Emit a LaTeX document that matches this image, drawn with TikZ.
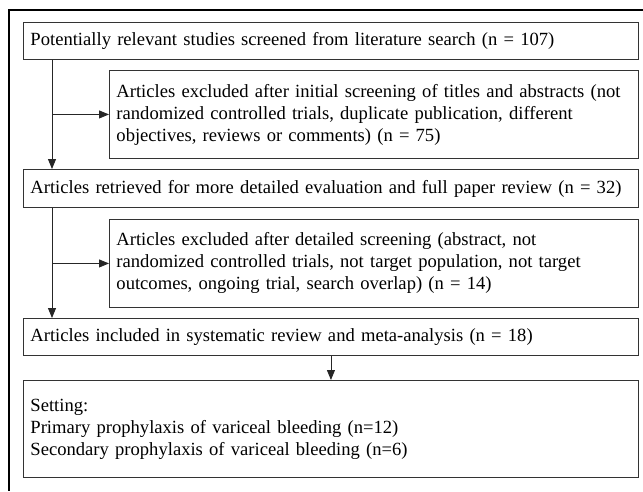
\documentclass[tikz,border=0pt]{standalone}
\usepackage{fontspec}
\setmainfont{Liberation Serif}
\usetikzlibrary{arrows.meta}
\tikzset{
  box/.style={draw=black!80, line width=0.9pt, anchor=north west, align=left,
    inner xsep=7pt, inner ysep=0pt, font=\fontsize{18.6}{22}\selectfont},
  flow/.style={draw=black!85, line width=0.9pt, -{Triangle[length=10pt,width=8pt]}}
}
\begin{document}
\begin{tikzpicture}[x=1pt,y=-1pt]
\useasboundingbox (0,0) rectangle (643,491);
% outer frame, cut off at right and bottom
\draw[line width=1.1pt] (643,10) -- (9,10) -- (9,491);
\node[box, text width=601pt, minimum height=37pt] (search) at (23,22) {Potentially relevant studies screened from literature search (n = 107)};
\node[box, text width=515pt, minimum height=88pt] (excl1) at (109,70) {Articles excluded after initial screening of titles and abstracts (not\\randomized controlled trials, duplicate publication, different\\objectives, reviews or comments) (n = 75)};
\node[box, text width=601pt, minimum height=38pt] (retr) at (23,169) {Articles retrieved for more detailed evaluation and full paper review (n = 32)};
\node[box, text width=515pt, minimum height=88pt] (excl2) at (109,219) {Articles excluded after detailed screening (abstract, not\\randomized controlled trials, not target population, not target\\outcomes, ongoing trial, search overlap) (n = 14)};
\node[box, text width=601pt, minimum height=37pt] (incl) at (23,318) {Articles included in systematic review and meta-analysis (n = 18)};
\node[box, text width=601pt, minimum height=97pt] (setting) at (23,380) {Setting:\\Primary prophylaxis of variceal bleeding (n=12)\\Secondary prophylaxis of variceal bleeding (n=6)\\[16pt]};
% trunk lines
\coordinate (t1) at ([xshift=29pt]search.south west);
\coordinate (t2) at ([xshift=29pt]retr.south west);
\draw[flow] (t1) -- (t1 |- retr.north);
\draw[flow] (t1 |- excl1.west) -- (excl1.west);
\draw[flow] (t2) -- (t2 |- incl.north);
\draw[flow] (t2 |- excl2.west) -- (excl2.west);
\draw[flow] (incl.south) -- (setting.north);
\end{tikzpicture}
\end{document}
